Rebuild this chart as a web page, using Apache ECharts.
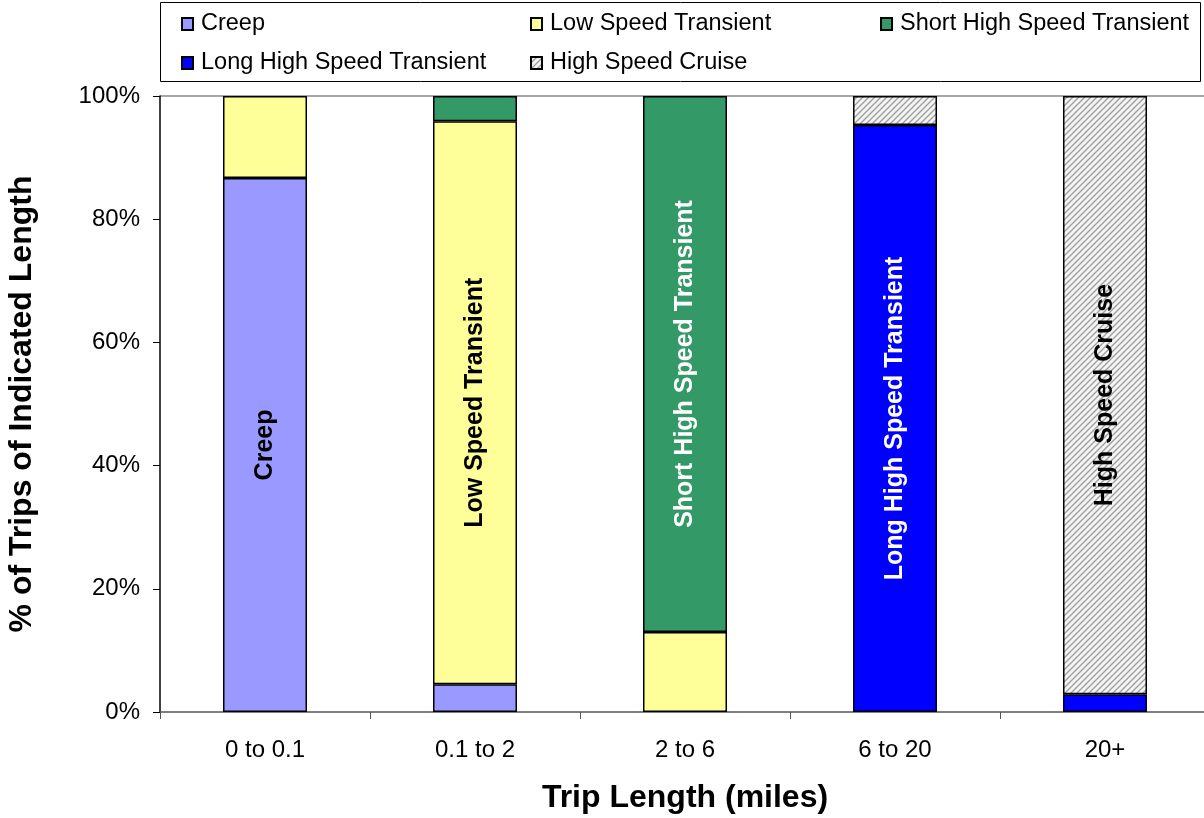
<!DOCTYPE html>
<html>
<head>
<meta charset="utf-8">
<script src="https://cdn.jsdelivr.net/npm/echarts@6/dist/echarts.min.js"></script>
<style>
  html, body { margin: 0; padding: 0; background: #fff; }
  #chart { width: 1204px; height: 818px; }
</style>
</head>
<body>
<div id="chart"></div>
<script>
// Trip length bins
const categories = ['0 to 0.1', '0.1 to 2', '2 to 6', '6 to 20', '20+'];

// Share of trips (%) in each driving mode, per trip-length bin
const creep = [86.7, 4.5, null, null, null];
const lowSpeedTransient = [13.3, 91.4, 13.0, null, null];
const shortHighSpeedTransient = [null, 4.1, 87.0, null, null];
const longHighSpeedTransient = [null, null, null, 95.3, 2.9];
const highSpeedCruise = [null, null, null, 4.7, 97.1];

// Dominant mode written inside each bar, and its text colour
const barLabels = ['Creep', 'Low Speed Transient', 'Short High Speed Transient', 'Long High Speed Transient', 'High Speed Cruise'];
const barLabelColors = ['#000', '#000', '#fff', '#fff', '#000'];

const yTicks = [0, 20, 40, 60, 80, 100];

// Diagonal hatch fill for the cruise mode
function hatch() {
  const c = document.createElement('canvas');
  c.width = 6; c.height = 6;
  const g = c.getContext('2d');
  g.fillStyle = '#f4f4f4';
  g.fillRect(0, 0, 6, 6);
  g.strokeStyle = '#a0a0a0';
  g.lineWidth = 1.4;
  g.beginPath();
  g.moveTo(-1, 7); g.lineTo(7, -1);
  g.moveTo(-1, 1); g.lineTo(1, -1);
  g.moveTo(5, 7); g.lineTo(7, 5);
  g.stroke();
  return { image: c, repeat: 'repeat' };
}

const modes = [
  { name: 'Creep', data: creep, color: '#9999ff' },
  { name: 'Low Speed Transient', data: lowSpeedTransient, color: '#ffff99' },
  { name: 'Short High Speed Transient', data: shortHighSpeedTransient, color: '#339966' },
  { name: 'Long High Speed Transient', data: longHighSpeedTransient, color: '#0000ff' },
  { name: 'High Speed Cruise', data: highSpeedCruise, color: hatch() }
];

const FONT = 'Liberation Sans, Arial, sans-serif';

const series = modes.map(m => ({
  name: m.name,
  type: 'bar',
  stack: 'trips',
  barWidth: '40%',
  itemStyle: { color: m.color, borderColor: '#000', borderWidth: 1.5 },
  data: m.data.map((v, i) => {
    const item = { value: v };
    if (barLabels[i] === m.name) {
      item.label = {
        show: true,
        position: 'inside',
        rotate: 90,
        formatter: m.name,
        color: barLabelColors[i],
        fontFamily: FONT,
        fontWeight: 'bold',
        fontSize: 25
      };
    }
    return item;
  })
}));

// Legend laid out as a 3-column grid
const legendSlots = [
  { left: 181, top: 12 }, { left: 530, top: 12 }, { left: 880, top: 12 },
  { left: 181, top: 51 }, { left: 530, top: 51 }
];
const legends = modes.map((m, i) => ({
  data: [m.name],
  left: legendSlots[i].left,
  top: legendSlots[i].top,
  icon: 'rect',
  itemWidth: 11,
  itemHeight: 12,
  itemGap: 0,
  padding: 0,
  selectedMode: false,
  textStyle: { fontFamily: FONT, fontSize: 23.5, color: '#000', padding: [0, 0, 0, 3] }
}));

const chart = echarts.init(document.getElementById('chart'), null, { renderer: 'canvas' });
chart.setOption({
  backgroundColor: '#fff',
  animation: false,
  legend: legends,
  graphic: [{
    type: 'rect',
    shape: { x: 160.5, y: 2.5, width: 1040, height: 79 },
    style: { fill: 'none', stroke: '#000', lineWidth: 1 },
    z: -1
  }],
  // plot area runs slightly past the right edge of the canvas
  grid: { left: 160, width: 1050, top: 96, bottom: 106, outerBoundsMode: 'none', containLabel: false },
  xAxis: {
    type: 'category',
    data: categories,
    name: 'Trip Length (miles)',
    nameLocation: 'middle',
    nameGap: 70,
    nameTextStyle: { fontFamily: FONT, fontSize: 32, fontWeight: 'bold', color: '#000' },
    axisLine: { lineStyle: { color: '#555', width: 1.5 } },
    axisTick: { show: true, interval: 0, length: 7, lineStyle: { color: '#555', width: 1 } },
    axisLabel: { fontFamily: FONT, fontSize: 24, color: '#000', margin: 26 }
  },
  yAxis: {
    type: 'value',
    min: yTicks[0],
    max: yTicks[yTicks.length - 1],
    interval: 20,
    name: '% of Trips of Indicated Length',
    nameLocation: 'middle',
    nameRotate: 90,
    nameGap: 122,
    nameTextStyle: { fontFamily: FONT, fontSize: 32, fontWeight: 'bold', color: '#000' },
    axisLine: { show: true, lineStyle: { color: '#000', width: 1.5 } },
    axisTick: { show: true, length: 7, lineStyle: { color: '#000', width: 1 } },
    axisLabel: { fontFamily: FONT, fontSize: 24, color: '#000', margin: 20, formatter: '{value}%' },
    splitLine: {
      show: true,
      lineStyle: { color: ['rgba(0,0,0,0)', 'rgba(0,0,0,0)', 'rgba(0,0,0,0)', 'rgba(0,0,0,0)', 'rgba(0,0,0,0)', '#888'], width: 1.5 }
    }
  },
  series: series
});
</script>
</body>
</html>
